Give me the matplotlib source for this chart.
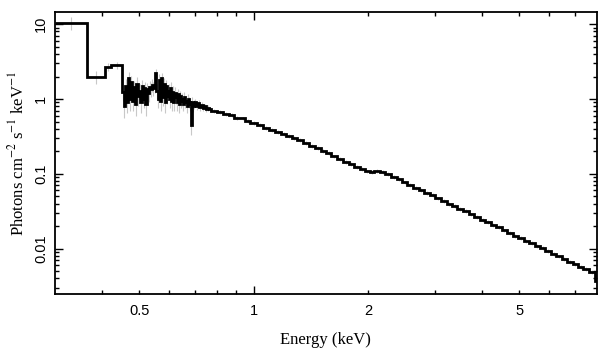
import numpy as np
import matplotlib
matplotlib.use("Agg")
import matplotlib.pyplot as plt
from matplotlib.ticker import FixedLocator, NullFormatter

# Unfolded spectrum, bin edges (keV) and flux (photons cm^-2 s^-1 keV^-1)
edges = [0.30, 0.365, 0.407, 0.421, 0.451,
         0.455, 0.459, 0.463, 0.467, 0.471, 0.475, 0.479, 0.483, 0.487, 0.491,
         0.495, 0.499, 0.503, 0.507, 0.511, 0.515, 0.519, 0.523, 0.527, 0.531,
         0.535, 0.539, 0.543, 0.547, 0.551, 0.555, 0.559, 0.563, 0.567, 0.571,
         0.575, 0.579, 0.583, 0.587, 0.591, 0.595, 0.599, 0.603, 0.607, 0.611,
         0.615, 0.619, 0.623, 0.627, 0.631, 0.635, 0.639, 0.643, 0.647, 0.651,
         0.655, 0.659, 0.663, 0.667, 0.671, 0.675, 0.679, 0.683, 0.687, 0.691,
         0.695, 0.699,
         0.706, 0.713, 0.720, 0.727, 0.734, 0.741, 0.748, 0.755, 0.762, 0.770,
         0.80, 0.83, 0.86, 0.89, 0.92, 0.95, 0.98,
         1.02, 1.06, 1.10, 1.14, 1.18, 1.22, 1.26, 1.30, 1.35, 1.40,
         1.45, 1.50, 1.55, 1.60, 1.66, 1.72, 1.78, 1.84, 1.90, 1.96,
         2.02, 2.08, 2.15, 2.22, 2.30, 2.38, 2.46, 2.54, 2.63, 2.72,
         2.81, 2.91, 3.01, 3.11, 3.22, 3.33, 3.44, 3.56, 3.68, 3.81,
         3.94, 4.07, 4.21, 4.35, 4.50, 4.65, 4.81, 4.97, 5.14, 5.31,
         5.49, 5.67, 5.86, 6.06, 6.26, 6.47, 6.69, 6.91, 7.14, 7.38,
         7.62, 7.90, 8.00]

flux = [10.4, 2.0, 2.7, 2.85,
        # noisy soft band 0.45-0.70 keV
        1.25, 0.8, 1.5, 0.9, 1.9, 1.0,
        1.7, 0.95, 1.45, 0.85, 1.6, 1.1,
        1.3, 0.9, 1.5, 1.0, 1.4, 0.85, 1.35, 1.2,
        1.45, 1.35, 1.55, 1.4, 1.5, 2.2, 1.3,
        1.0, 1.8, 0.95, 1.9, 1.05, 1.6, 0.9, 1.5, 1.1, 1.3,
        1.0, 1.4, 0.95, 1.25, 0.9, 1.2, 1.05, 0.9, 1.15, 0.85,
        1.1, 0.95, 1.0, 0.85, 1.05, 0.9, 0.95, 0.8, 1.0, 0.9,
        0.85, 0.45, 0.9, 0.8, 0.85,
        # 0.70-0.77 keV
        0.9, 0.8, 0.88, 0.78, 0.84, 0.77, 0.8, 0.73, 0.76, 0.73,
        # smooth continuum
        0.70, 0.68, 0.63, 0.605, 0.565, 0.55, 0.515,
        0.48, 0.445, 0.41, 0.39, 0.36, 0.345, 0.32, 0.305, 0.283, 0.262,
        0.236, 0.221, 0.201, 0.189, 0.171, 0.159, 0.144, 0.135, 0.123, 0.116,
        0.1075, 0.106, 0.109, 0.106, 0.099, 0.091, 0.0845, 0.0768, 0.0718, 0.0652,
        0.0608, 0.0553, 0.0515, 0.0468, 0.0437, 0.0398, 0.0371, 0.0338, 0.0315, 0.0286,
        0.0267, 0.0243, 0.0227, 0.0206, 0.0193, 0.0175, 0.0164, 0.0149, 0.0139, 0.0126,
        0.0119, 0.0108, 0.0101, 0.0092, 0.00858, 0.00785, 0.0073, 0.00665, 0.00622, 0.00568,
        0.0053, 0.00482, 0.0037]

flux_err = [2.1, 0.4, 0.3, 0.3,
            0.3, 0.25, 0.35, 0.25, 0.4, 0.3,
            0.35, 0.25, 0.3, 0.25, 0.35, 0.3,
            0.3, 0.25, 0.3, 0.25, 0.3, 0.25, 0.3, 0.3,
            0.3, 0.3, 0.3, 0.3, 0.3, 0.35, 0.3,
            0.25, 0.35, 0.25, 0.35, 0.25, 0.3, 0.25, 0.3, 0.25, 0.3,
            0.25, 0.3, 0.25, 0.25, 0.2, 0.25, 0.2, 0.2, 0.2, 0.2,
            0.2, 0.2, 0.2, 0.15, 0.2, 0.15, 0.15, 0.15, 0.15, 0.15,
            0.15, 0.12, 0.15, 0.12, 0.12,
            0.1, 0.08, 0.1, 0.08, 0.08, 0.07, 0.07, 0.06, 0.06, 0.06]
# smooth part: small relative errors
flux_err += [f * 0.06 for f in flux[len(flux_err):]]

plt.rcParams['font.family'] = 'Liberation Sans'
plt.rcParams['mathtext.fontset'] = 'stix'

fig = plt.figure(figsize=(6.09, 3.57), dpi=100)
ax = fig.add_axes([0.0903, 0.1756, 0.8895, 0.7916])

e = np.array(edges)
centers = np.sqrt(e[:-1] * e[1:])
ax.errorbar(centers, flux, yerr=flux_err, fmt='none', ecolor='#c8c8c8',
            elinewidth=0.8, zorder=1)
ax.stairs(flux, edges, color='black', linewidth=2.0, baseline=None, zorder=2)

ax.set_xscale('log')
ax.set_yscale('log')
ax.set_xlim(0.3, 8.0)
ax.set_ylim(0.00245, 14.7)

# x ticks: long tick at 1 keV, short ones elsewhere, labels on 0.5, 1, 2, 5
ax.xaxis.set_major_locator(FixedLocator([1.0]))
ax.set_xticklabels(['1'])
minor_x = [0.4, 0.5, 0.6, 0.7, 0.8, 0.9, 2, 3, 4, 5, 6, 7]
ax.set_xticks(minor_x, minor=True)
ax.set_xticklabels(['', '0.5', '', '', '', '', '2', '', '', '5', '', ''], minor=True)

ax.set_yticks([0.01, 0.1, 1, 10])
ax.set_yticklabels(['0.01', '0.1', '1', '10'], rotation=90, va='center')
ax.yaxis.set_minor_formatter(NullFormatter())

ax.tick_params(which='both', direction='in', top=True, right=True,
               labelsize=10.5, width=1.0)
ax.tick_params(which='major', length=6, pad=7)
ax.tick_params(which='minor', length=3, pad=7)
ax.tick_params(axis='y', which='both', pad=5)
for s in ax.spines.values():
    s.set_linewidth(1.3)

ax.set_xlabel('Energy (keV)', family='Liberation Serif', fontsize=12, labelpad=10)
ax.set_ylabel('Photons cm$^{-2}$ s$^{-1}$ keV$^{-1}$', family='Liberation Serif',
              fontsize=12, labelpad=5)

fig.savefig('out.png', dpi=100)
